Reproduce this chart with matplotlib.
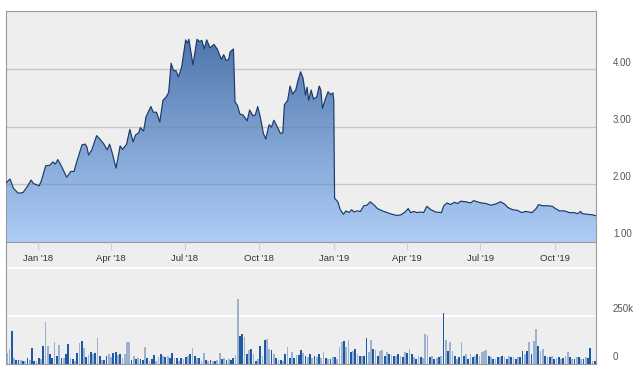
import numpy as np
import pandas as pd
import matplotlib
matplotlib.use("Agg")
import matplotlib.pyplot as plt
import matplotlib.dates as mdates
from matplotlib.transforms import offset_copy
from matplotlib.colors import LinearSegmentedColormap

plt.rcParams['font.family'] = ['Liberation Sans', 'DejaVu Sans']

START = pd.Timestamp('2017-11-22')
END = pd.Timestamp('2019-11-21')

# price series: days after START, value
price_day = [0, 5, 9, 15, 21, 26, 31, 34, 41, 44, 49, 54, 58, 61, 64, 69, 75, 80, 84, 88,
             94, 98, 100, 102, 106, 112, 116, 121, 125, 128, 131, 136, 141, 144, 149, 153, 157, 160, 164, 166,
             170, 173, 179, 182, 186, 190, 194, 198, 201, 204, 207, 210, 213, 217, 222, 224, 226, 231, 236, 239,
             242, 245, 248, 250, 252, 257, 261, 266, 269, 272, 275, 277, 281, 283, 286, 289, 293, 298, 301, 305,
             308, 311, 314, 318, 321, 325, 328, 331, 335, 339, 342, 344, 348, 351, 354, 358, 361, 364, 367, 370,
             372, 374, 377, 380, 384, 387, 389, 391, 395, 398, 401, 404, 405, 406, 410, 413, 417, 420, 424, 427,
             430, 434, 438, 442, 446, 450, 455, 459, 465, 471, 477, 483, 488, 493, 497, 500, 504, 508, 512, 516,
             520, 525, 531, 538, 541, 545, 549, 554, 558, 562, 568, 574, 578, 582, 587, 593, 599, 605, 611, 616,
             620, 626, 632, 637, 642, 646, 650, 655, 658, 663, 669, 675, 679, 684, 690, 696, 702, 706, 710, 712,
             719, 725, 730]
price = [2.01, 2.08, 1.92, 1.83, 1.84, 1.94, 2.06, 2.00, 1.96, 2.06, 2.31, 2.32, 2.38, 2.34, 2.42, 2.29, 2.11, 2.21, 2.21, 2.41,
         2.68, 2.69, 2.64, 2.50, 2.59, 2.84, 2.78, 2.69, 2.59, 2.69, 2.55, 2.27, 2.66, 2.60, 2.69, 2.95, 2.73, 2.85, 2.89, 2.98,
         2.92, 3.17, 3.35, 3.25, 3.25, 3.08, 3.46, 3.52, 3.60, 4.11, 3.98, 3.98, 3.87, 4.04, 4.52, 4.46, 4.53, 4.08, 4.53, 4.49,
         4.51, 4.36, 4.52, 4.45, 4.38, 4.44, 4.36, 4.18, 4.26, 4.16, 4.17, 4.31, 4.36, 3.43, 3.37, 3.22, 3.20, 3.10, 3.29, 3.19,
         3.20, 3.35, 3.18, 2.88, 2.78, 3.03, 2.99, 3.11, 3.00, 2.88, 2.89, 3.38, 3.46, 3.71, 3.57, 3.64, 3.82, 3.96, 3.85, 3.55,
         3.69, 3.46, 3.64, 3.48, 3.52, 3.71, 3.64, 3.32, 3.50, 3.61, 3.56, 3.59, 3.46, 1.74, 1.68, 1.54, 1.46, 1.52, 1.49, 1.54,
         1.50, 1.52, 1.51, 1.61, 1.62, 1.68, 1.62, 1.56, 1.52, 1.49, 1.46, 1.44, 1.45, 1.50, 1.56, 1.49, 1.51, 1.49, 1.50, 1.49,
         1.60, 1.54, 1.50, 1.49, 1.61, 1.66, 1.63, 1.67, 1.65, 1.69, 1.68, 1.66, 1.70, 1.68, 1.66, 1.65, 1.62, 1.64, 1.68, 1.64,
         1.58, 1.54, 1.53, 1.49, 1.51, 1.50, 1.49, 1.56, 1.63, 1.61, 1.61, 1.60, 1.56, 1.52, 1.52, 1.49, 1.49, 1.47, 1.51, 1.47,
         1.46, 1.45, 1.43]

# volume (thousands), one bar per two trading days
volume_k = [58, 76, 170, 32, 20, 23, 23, 14, 18, 32,
            23, 81, 15, 15, 32, 25, 94, 218, 94, 50,
            30, 115, 41, 99, 32, 32, 50, 104, 32, 25,
            18, 58, 108, 120, 85, 37, 46, 62, 53, 58,
            133, 41, 23, 23, 44, 50, 37, 55, 64, 46,
            53, 32, 53, 112, 112, 23, 41, 27, 32, 28,
            23, 88, 32, 14, 25, 46, 18, 35, 53, 44,
            35, 41, 30, 57, 32, 32, 18, 32, 25, 35,
            41, 53, 81, 44, 30, 32, 18, 58, 23, 18,
            20, 14, 18, 23, 58, 28, 32, 23, 25, 23,
            32, 46, 336, 145, 156, 138, 53, 71, 76, 53,
            18, 28, 94, 44, 124, 129, 76, 71, 50, 32,
            23, 23, 14, 53, 88, 32, 62, 32, 46, 46,
            71, 58, 44, 35, 50, 30, 44, 37, 50, 30,
            60, 30, 28, 25, 34, 34, 28, 87, 113, 122,
            87, 127, 60, 69, 78, 51, 42, 42, 42, 135,
            60, 126, 78, 73, 42, 69, 73, 42, 60, 51,
            48, 42, 40, 51, 42, 37, 60, 55, 78, 51,
            34, 25, 42, 34, 30, 154, 149, 34, 42, 25,
            30, 34, 42, 264, 127, 69, 113, 69, 42, 25,
            34, 113, 42, 51, 25, 51, 34, 42, 51, 40,
            60, 69, 73, 42, 34, 28, 25, 34, 38, 42,
            34, 28, 42, 36, 34, 25, 34, 38, 69, 51,
            69, 113, 51, 122, 184, 96, 69, 78, 42, 34,
            38, 42, 25, 30, 34, 25, 30, 42, 60, 34,
            28, 25, 34, 34, 28, 25, 34, 30, 83, 16, 16]
volume_dir = ("LLDLDDLDLD" "LDDLDLDLLD" "DLDLDLDDLD" "LDLDLDLDLD" "LDLDDLLDDL"
              "DLLLLDLDLD" "DLDLDDLLDL" "DLDDLDLDLD" "LDLDLDLLDL" "DLDLLDLDLD"
              "DLLDDLDLDL" "DLDLDLLDLD" "LDLDLDLDLD" "DLDLDLDLDL" "LDLDLDLLLD"
              "LLDLDLDLDD" "LLDLDLLDLD" "LDLDLDLDLD" "LDLDLLLDLD" "LDLDLDLLDL"
              "DLDLDLDLDL" "LLLDLDLDLD" "LDLDLDLDDL" "DLDLLDLLDL" "DLDLDLDLLD"
              "LDLDLDLDDLD")

x_ticks = ['2018-01-01', '2018-04-01', '2018-07-01', '2018-10-01',
           '2019-01-01', '2019-04-01', '2019-07-01', '2019-10-01']
x_tick_labels = ["Jan '18", "Apr '18", "Jul '18", "Oct '18",
                 "Jan '19", "Apr '19", "Jul '19", "Oct '19"]
price_ticks = [1, 2, 3, 4]
price_tick_labels = ['1.00', '2.00', '3.00', '4.00']
vol_ticks = [0, 250000, 500000]
vol_tick_labels = ['0', '250k', '']

W, H = 640, 369
fig = plt.figure(figsize=(W / 100, H / 100), dpi=100)
fig.patch.set_facecolor('white')


def rect(x0, y0, x1, y1):
    return [x0 / W, 1 - y1 / H, (x1 - x0) / W, (y1 - y0) / H]


ax_v = fig.add_axes(rect(6, 242, 596, 364))
ax_p = fig.add_axes(rect(6, 11, 596, 242))
ax_v.set_zorder(1)
ax_p.set_zorder(2)

BG = '#eeeeee'
SPINE = '#9a9a9a'
x0 = mdates.date2num(START)
x1 = mdates.date2num(END)
ylo, yhi = 0.974, 5.026

# ---- price panel
ax_p.set_facecolor(BG)
xd = mdates.date2num(START + pd.to_timedelta(price_day, unit='D'))
fill = ax_p.fill_between(xd, price, ylo, facecolor='none', lw=0)
grad = np.linspace(0, 1, 256).reshape(-1, 1)
cmap = LinearSegmentedColormap.from_list('g', ['#aecdf6', '#426ba4'])
im = ax_p.imshow(grad, cmap=cmap, extent=[x0, x1, ylo, yhi], origin='lower',
                 aspect='auto', zorder=1, interpolation='bilinear')
im.set_clip_path(fill.get_paths()[0], transform=ax_p.transData)
ax_p.plot(xd, price, color='#1b3a68', lw=0.85, zorder=3)
ax_p.set_xlim(x0, x1)
ax_p.set_ylim(ylo, yhi)
ax_p.set_yticks(price_ticks[1:])
ax_p.set_axisbelow(False)
ax_p.grid(axis='y', color='#73808c', alpha=0.35, lw=1.0)
ax_p.tick_params(axis='y', left=False, right=False, labelleft=False)
ax_p.set_xticks(mdates.date2num(pd.to_datetime(x_ticks)))
ax_p.set_xticklabels(x_tick_labels)
ax_p.tick_params(axis='x', direction='out', length=6, width=0.9, color='#c3d4e8',
                 pad=2.5, labelsize=6.8, labelcolor='#333333')
for s in ax_p.spines.values():
    s.set_color(SPINE)
    s.set_linewidth(0.8)

tr_p = offset_copy(ax_p.get_yaxis_transform(), fig=fig, x=17, y=6.5, units='dots')
for v, lab in zip(price_ticks, price_tick_labels):
    ax_p.text(1, v, lab, transform=tr_p, ha='left', va='center', fontsize=7, color='#555555')

# ---- volume panel
ax_v.set_facecolor(BG)
n = len(volume_k)
pos = x0 + (np.arange(n) + 0.5) * (x1 - x0) / n
cols = ['#1d5aa3' if c == 'D' else '#9cb0cf' for c in volume_dir[:n]]
ax_v.bar(pos, np.array(volume_k) * 1000, width=(x1 - x0) / n * 0.78, color=cols,
         lw=0, zorder=2)
for v in vol_ticks[1:]:
    ax_v.axhline(v, color='white', lw=1.3, zorder=0.5)
ax_v.set_xlim(x0, x1)
ax_v.set_ylim(0, 635000)
ax_v.set_xticks([])
ax_v.set_yticks([])
for k, s in ax_v.spines.items():
    s.set_color(SPINE)
    s.set_linewidth(0.8)
ax_v.spines['top'].set_visible(False)

tr_v = offset_copy(ax_v.get_yaxis_transform(), fig=fig, x=17, y=6.5, units='dots')
for v, lab in zip(vol_ticks, vol_tick_labels):
    if lab:
        ax_v.text(1, v, lab, transform=tr_v, ha='left', va='center', fontsize=7, color='#555555')

fig.savefig('out.png', dpi=100, facecolor='white')
